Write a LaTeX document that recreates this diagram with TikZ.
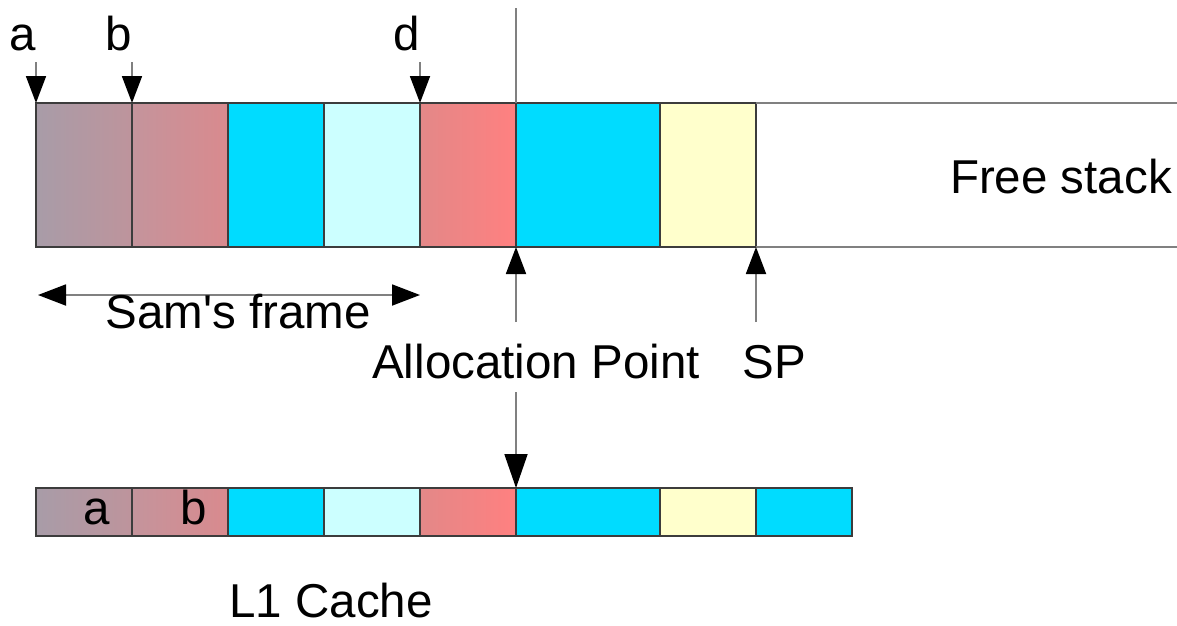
\documentclass[tikz,border=0pt]{standalone}
\usepackage{fontspec}
\setmainfont{Liberation Sans}
\newfontfamily\labelfont{Liberation Sans}
\usetikzlibrary{arrows.meta}
\definecolor{cyanc}{HTML}{00DCFF}
\definecolor{paleblue}{HTML}{CCFFFF}
\definecolor{paleyellow}{HTML}{FFFFCC}
\definecolor{mauveA}{HTML}{A89CA8}
\definecolor{mauveB}{HTML}{BE949C}
\definecolor{roseA}{HTML}{C4949C}
\definecolor{roseB}{HTML}{D98A8E}
\definecolor{redA}{HTML}{E38888}
\definecolor{redB}{HTML}{FF8080}
\definecolor{edge}{HTML}{3C3C3C}
\definecolor{guide}{HTML}{808080}
\tikzset{
  cell/.style={draw=edge, line width=1.3pt, inner sep=0pt, outer sep=0pt,
    anchor=north west, minimum height=144pt},
  lowcell/.style={cell, minimum height=48pt},
  narrow/.style={minimum width=96pt},
  wide/.style={minimum width=144pt},
  ptr/.style={draw=guide, line width=1.8pt,
    -{Triangle[length=27pt, width=20pt, color=black]}},
  bigptr/.style={draw=guide, line width=1.8pt,
    -{Triangle[length=34pt, width=23pt, color=black]}},
  span/.style={draw=guide, line width=1.8pt,
    {Triangle[length=28pt, width=21pt, color=black]}-{Triangle[length=28pt, width=21pt, color=black]}},
  lbl/.style={font=\labelfont\fontsize{47.5}{57}\selectfont, inner sep=0pt, anchor=base},
}
\begin{document}
\begin{tikzpicture}[x=1pt, y=-1pt]
\useasboundingbox (0,0) rectangle (1177,625);

% free stack rails
\coordinate (railTop) at (1177,103);
\coordinate (railBot) at (1177,247);

% stack row
\node[cell, narrow, left color=mauveA, right color=mauveB] (t1) at (36,103) {};
\node[cell, narrow, left color=roseA, right color=roseB] (t2) at (132,103) {};
\node[cell, narrow, fill=cyanc] (t3) at (228,103) {};
\node[cell, narrow, fill=paleblue] (t4) at (324,103) {};
\node[cell, narrow, left color=redA, right color=redB] (t5) at (420,103) {};
\node[cell, wide, fill=cyanc] (t6) at (516,103) {};
\node[cell, narrow, fill=paleyellow] (t7) at (660,103) {};
\draw[guide, line width=1.8pt] (t7.north east) -- (railTop);
\draw[guide, line width=1.8pt] (t7.south east) -- (railBot);

% allocation boundary
\coordinate (splitTop) at (516,8);
\draw[guide, line width=1.8pt] (splitTop) -- (t6.north west);

% pointer labels above the stack
\node[lbl] (la) at (23,50) {a};
\node[lbl] (lb) at (119,50) {b};
\node[lbl] (ld) at (407,50) {d};
\coordinate (pa) at (36,62);
\coordinate (pb) at (132,62);
\coordinate (pd) at (420,62);
\draw[ptr] (pa) -- (t1.north west);
\draw[ptr] (pb) -- (t2.north west);
\draw[ptr] (pd) -- (t5.north west);

\node[lbl, anchor=base east] (free) at (1172,193) {Free stack};

% frame extent
\coordinate (samL) at (38,295);
\coordinate (samR) at (420,295);
\draw[span] (samL) -- (samR);
\node[lbl] (sam) at (238,328) {Sam's frame};

% allocation point and stack pointer
\coordinate (allocTail) at (516,322);
\coordinate (spTail) at (756,322);
\draw[ptr] (allocTail) -- (t6.south west);
\draw[ptr] (spTail) -- (t7.south east);
\node[lbl] (alloc) at (536,378) {Allocation Point};
\node[lbl] (sp) at (774,378) {SP};

% cache row
\node[lowcell, narrow, left color=mauveA, right color=mauveB] (b1) at (36,488) {};
\node[lowcell, narrow, left color=roseA, right color=roseB] (b2) at (132,488) {};
\node[lowcell, narrow, fill=cyanc] (b3) at (228,488) {};
\node[lowcell, narrow, fill=paleblue] (b4) at (324,488) {};
\node[lowcell, narrow, left color=redA, right color=redB] (b5) at (420,488) {};
\node[lowcell, wide, fill=cyanc] (b6) at (516,488) {};
\node[lowcell, narrow, fill=paleyellow] (b7) at (660,488) {};
\node[lowcell, narrow, fill=cyanc] (b8) at (756,488) {};
\node[lbl] (ca) at (97,524) {a};
\node[lbl] (cb) at (194,524) {b};

\coordinate (cacheTail) at (516,392);
\draw[bigptr] (cacheTail) -- (b6.north west);

\node[lbl] (l1) at (331,617) {L1 Cache};
\end{tikzpicture}
\end{document}
